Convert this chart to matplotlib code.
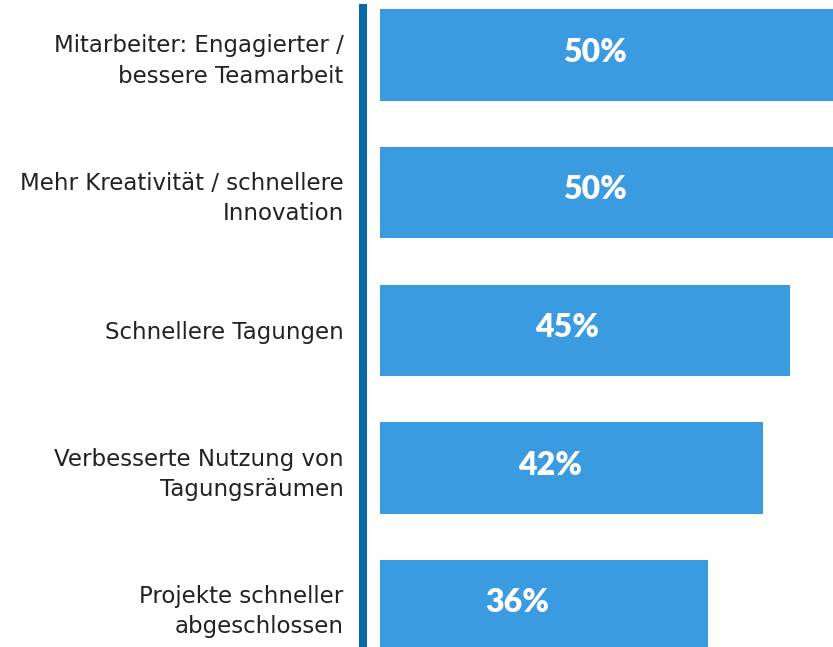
"""Horizontal bar chart: benefits (German survey)."""

import matplotlib
matplotlib.use('Agg')
import matplotlib.pyplot as plt

categories = [
    'Mitarbeiter: Engagierter /\nbessere Teamarbeit',
    'Mehr Kreativität / schnellere\nInnovation',
    'Schnellere Tagungen',
    'Verbesserte Nutzung von\nTagungsräumen',
    'Projekte schneller\nabgeschlossen',
]
values = [50, 50, 45, 42, 36]

BAR_COLOR = '#3b9be1'
AXIS_COLOR = '#0b69ab'

plt.rcParams['font.family'] = ['DejaVu Sans']

fig = plt.figure(figsize=(8.33, 6.47), dpi=100)
ax = fig.add_axes([363 / 833, 0, 1 - 363 / 833, (647 - 8) / 647])

ypos = list(range(len(values)))
ax.barh(ypos, values, height=0.665, color=BAR_COLOR, left=0)

# value labels sit a bit left of the bar middle, more so for shorter bars
for y, v in zip(ypos, values):
    ax.text(v * 0.614 - 7.1, y - 0.02, f'{v}%', color='white', fontsize=23,
            fontweight='heavy', family=['Lato'], ha='center', va='center')

ax.set_xlim(-1.87, 49.73)
ax.set_ylim(4.30, -0.341)
ax.set_yticks(ypos)
ax.set_yticklabels(categories, fontsize=16.5, color='#222222',
                   linespacing=1.4)
ax.tick_params(axis='y', length=0, pad=14)
ax.set_xticks([])

for side in ['top', 'right', 'bottom']:
    ax.spines[side].set_visible(False)
ax.spines['left'].set_color(AXIS_COLOR)
ax.spines['left'].set_linewidth(5.8)

fig.savefig('out.png', dpi=100)
plt.close(fig)
